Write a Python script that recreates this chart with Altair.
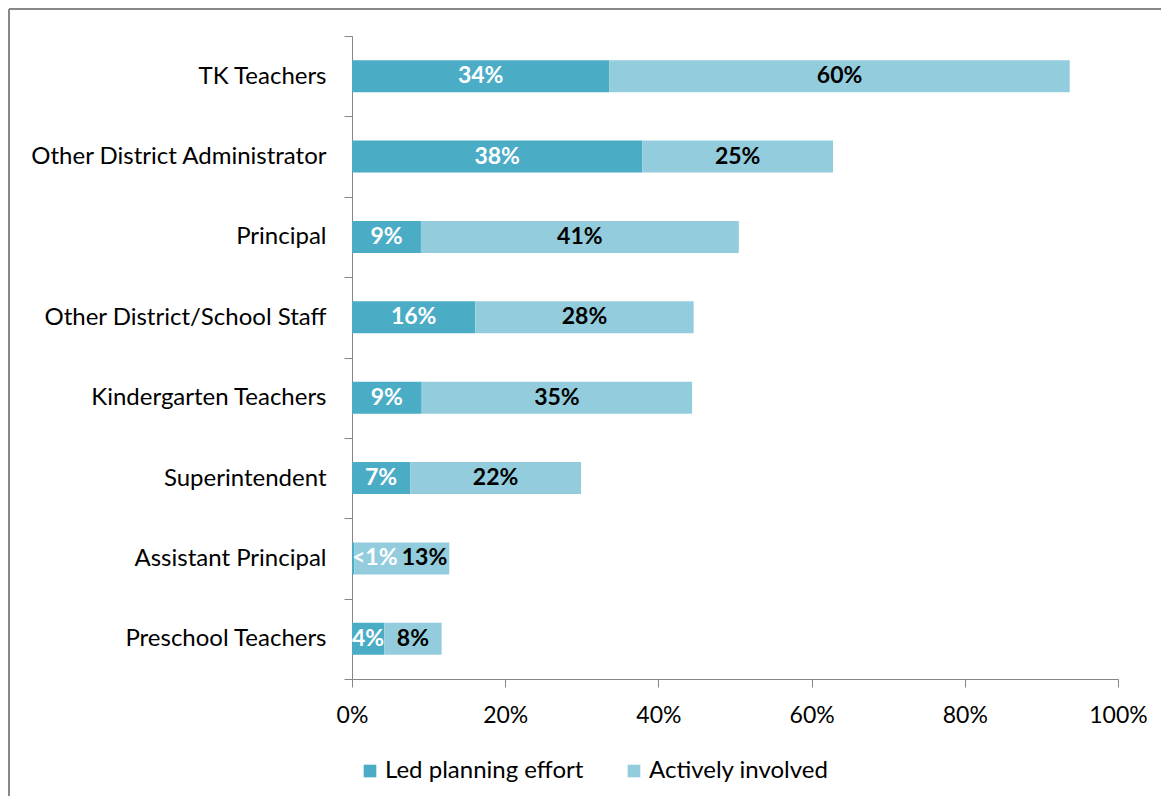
import altair as alt
import pandas as pd

categories = ["TK Teachers", "Other District Administrator", "Principal",
              "Other District/School Staff", "Kindergarten Teachers",
              "Superintendent", "Assistant Principal", "Preschool Teachers"]
led_values = [33.6, 37.9, 9.0, 16.1, 9.1, 7.6, 0.3, 4.2]
active_values = [60.1, 24.9, 41.5, 28.5, 35.3, 22.3, 12.4, 7.5]
led_labels = ["34%", "38%", "9%", "16%", "9%", "7%", "<1%", "4%"]
active_labels = ["60%", "25%", "41%", "28%", "35%", "22%", "13%", "8%"]
series_names = ["Led planning effort", "Actively involved"]
series_colors = ["#4BACC6", "#93CDDD"]

rows = []
for i, c in enumerate(categories):
    l, a = led_values[i], active_values[i]
    tiny = l < 1
    rows.append(dict(category=c, series=series_names[0], start=0, end=l,
                     label=led_labels[i],
                     pos=0 if tiny else l / 2,
                     anchor="left" if tiny else "center", order=0))
    rows.append(dict(category=c, series=series_names[1], start=l, end=l + a,
                     label=active_labels[i],
                     pos=(l + a) if tiny else l + a / 2,
                     anchor="right" if tiny else "center", order=1))
df = pd.DataFrame(rows)

FONT = "Lato"
FS = 23
AX = "#868686"

y_enc = alt.Y("category:N", sort=categories, title=None,
              scale=alt.Scale(paddingInner=0, paddingOuter=0))
x_scale = alt.Scale(domain=[0, 100], nice=False)

bars = alt.Chart(df).mark_bar(size=32).encode(
    y=y_enc,
    x=alt.X("start:Q", scale=x_scale, title=None,
            axis=alt.Axis(values=[0, 20, 40, 60, 80, 100],
                          labelExpr="datum.value + '%'", grid=False,
                          labelFlush=False,
                          domainColor=AX, tickColor=AX, tickSize=8,
                          labelFont=FONT, labelFontSize=FS, labelColor="#000000",
                          labelPadding=17)),
    x2="end:Q",
    color=alt.Color("series:N", sort=series_names,
                    scale=alt.Scale(domain=series_names, range=series_colors),
                    legend=alt.Legend(title=None, orient="none", direction="horizontal",
                                      legendX=6, legendY=723, symbolType="square",
                                      symbolSize=160, symbolStrokeWidth=0,
                                      labelFont=FONT, labelFontSize=24,
                                      labelLimit=400,
                                      labelColor="#000000", columnPadding=38,
                                      labelOffset=3)),
    order="order:Q",
)

def text_layer(series, anchor, color, dx=0):
    return alt.Chart(df).transform_filter(
        (alt.datum.series == series) & (alt.datum.anchor == anchor)
    ).mark_text(font=FONT, fontSize=FS, fontWeight="bold", color=color,
                align=anchor, baseline="middle", dx=dx).encode(
        y=y_enc, x=alt.X("pos:Q", scale=x_scale), text="label:N")

labels = [
    text_layer(series_names[0], "center", "#FFFFFF"),
    text_layer(series_names[0], "left", "#FFFFFF", dx=0),
    text_layer(series_names[1], "center", "#000000"),
    text_layer(series_names[1], "right", "#000000", dx=-2),
]

frame_left = alt.Chart(df).mark_rule(color="#878787", strokeWidth=2).encode(
    x=alt.value(-343), y=alt.value(-27), y2=alt.value(900))
frame_top = alt.Chart(df).mark_rule(color="#878787", strokeWidth=2).encode(
    x=alt.value(-343), x2=alt.value(1000), y=alt.value(-27))

chart = alt.layer(bars, *labels, frame_left, frame_top).properties(
    width=766, height=643,
    autosize=alt.AutoSizeParams(type="none"),
    padding={"left": 344, "top": 28, "right": 43, "bottom": 117},
).configure(background="#FFFFFF").configure_view(stroke=None).configure_axisY(
    domainColor=AX, tickColor=AX, tickSize=8, tickBand="extent",
    labelFont=FONT, labelFontSize=24, labelColor="#000000", labelPadding=18,
    grid=False, labelLimit=400,
)

chart.save("out.html", embed_options={"renderer": "svg", "actions": False})
